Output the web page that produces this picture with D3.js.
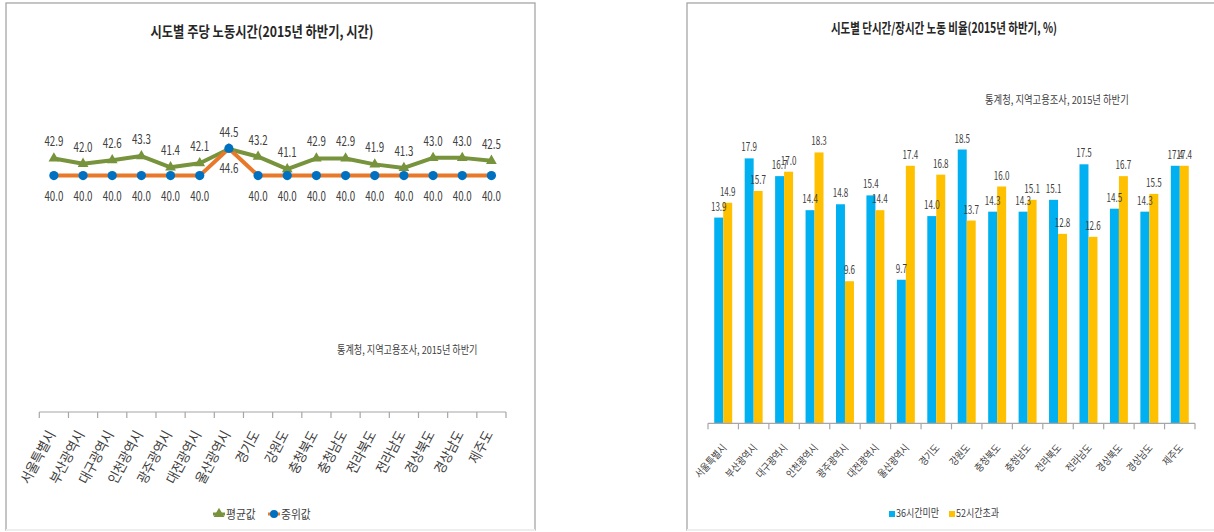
<!DOCTYPE html>
<html>
<head>
<meta charset="utf-8">
<script src="https://cdn.jsdelivr.net/npm/d3@7"></script>
<style>
  html, body { margin: 0; padding: 0; background: #fff; }
  svg { display: block; }
  text { font-family: "Noto Sans CJK KR", sans-serif; fill: #404040; }
  .title { font-weight: bold; fill: #262626; }
</style>
</head>
<body>
<svg id="chart" width="1214" height="532"></svg>
<script>
// 시도 목록
const regions = ['서울특별시', '부산광역시', '대구광역시', '인천광역시', '광주광역시', '대전광역시', '울산광역시',
  '경기도', '강원도', '충청북도', '충청남도', '전라북도', '전라남도', '경상북도', '경상남도', '제주도'];

// 주당 노동시간 (시간)
const meanHours = [42.9, 42.0, 42.6, 43.3, 41.4, 42.1, 44.5, 43.2, 41.1, 42.9, 42.9, 41.9, 41.3, 43.0, 43.0, 42.5];
const medianHours = [40.0, 40.0, 40.0, 40.0, 40.0, 40.0, 44.6, 40.0, 40.0, 40.0, 40.0, 40.0, 40.0, 40.0, 40.0, 40.0];

// 단시간/장시간 노동 비율 (%)
const shortWork = [13.9, 17.9, 16.7, 14.4, 14.8, 15.4, 9.7, 14.0, 18.5, 14.3, 14.3, 15.1, 17.5, 14.5, 14.3, 17.4];
const longWork = [14.9, 15.7, 17.0, 18.3, 9.6, 14.4, 17.4, 16.8, 13.7, 16.0, 15.1, 12.8, 12.6, 16.7, 15.5, 17.4];

const lineSeries = ['평균값', '중위값'];
const barSeries = ['36시간미만', '52시간초과'];
const sourceNote = '통계청, 지역고용조사, 2015년 하반기';

const svg = d3.select('#chart');

// 좁은 글꼴 흉내: 가로로 눌러서 그림
function squeeze(sel, sx) {
    sel.each(function () {
        const t = d3.select(this);
        const x = +t.attr('x') || 0, y = +t.attr('y') || 0;
        t.attr('x', 0).attr('y', 0).attr('transform', `translate(${x},${y}) scale(${sx},1)`);
    });
    return sel;
}

// 패널 테두리
function panel(x0, x1) {
    const g = svg.append('g');
    g.append('rect').attr('x', x0).attr('y', 3).attr('width', x1 - x0).attr('height', 527)
        .attr('fill', '#fff').attr('stroke', '#a6a6a6').attr('stroke-width', 1.3);
    g.append('line').attr('x1', x0).attr('x2', x1).attr('y1', 530).attr('y2', 530)
        .attr('stroke', '#eeeeee').attr('stroke-width', 2);
}
panel(6, 535);
panel(687, 1240);

// 카테고리 축 (눈금은 카테고리 경계)
function categoryAxis(x, y0, opt) {
    const g = svg.append('g').attr('transform', `translate(0,${y0})`);
    const [r0, r1] = x.range();
    g.append('line').attr('x1', r0).attr('x2', r1).attr('stroke', '#a6a6a6').attr('stroke-width', 1.2);
    const bounds = d3.range(regions.length + 1).map(i => r0 + i * x.step());
    g.selectAll('.tick-b').data(bounds).enter().append('line')
        .attr('x1', d => d).attr('x2', d => d).attr('y1', 0).attr('y2', 6)
        .attr('stroke', '#a6a6a6').attr('stroke-width', 1.2);
    g.selectAll('.lab').data(regions).enter().append('text')
        .attr('text-anchor', 'end')
        .style('font-size', opt.size + 'px')
        .attr('transform', d => `translate(${x(d) + x.bandwidth() / 2 + opt.dx},${opt.dy}) rotate(${opt.angle}) scale(${opt.sx},1)`)
        .text(d => d);
}

// ===== 왼쪽: 주당 노동시간 =====
{
    const x = d3.scaleBand().domain(regions).range([39.3, 506]).padding(0);
    const y = d3.scaleLinear().domain([0, 50]).range([412, 116.5]);
    const cx = d => x(d) + x.bandwidth() / 2;

    squeeze(svg.append('text').attr('class', 'title').attr('x', 262).attr('y', 37)
        .attr('text-anchor', 'middle').style('font-size', '15px')
        .text('시도별 주당 노동시간(2015년 하반기, 시간)'), 0.82);

    categoryAxis(x, 412, { size: 14, sx: 0.9, angle: -62, dx: 2, dy: 22 });

    const meanData = regions.map((r, i) => ({ r, v: meanHours[i] }));
    const medData = regions.map((r, i) => ({ r, v: medianHours[i] }));
    const line = d3.line().x(d => cx(d.r)).y(d => y(d.v));

    svg.append('path').datum(meanData).attr('d', line)
        .attr('fill', 'none').attr('stroke', '#77933c').attr('stroke-width', 4).attr('stroke-linejoin', 'round');
    svg.append('path').datum(medData).attr('d', line)
        .attr('fill', 'none').attr('stroke', '#e8792a').attr('stroke-width', 4).attr('stroke-linejoin', 'round');

    const tri = d3.symbol().type(d3.symbolTriangle).size(50);
    svg.selectAll('.tri').data(meanData).enter().append('path')
        .attr('d', tri).attr('fill', '#77933c')
        .attr('transform', d => `translate(${cx(d.r)},${y(d.v)})`);
    svg.selectAll('.dot').data(medData).enter().append('circle')
        .attr('cx', d => cx(d.r)).attr('cy', d => y(d.v)).attr('r', 4.6)
        .attr('fill', '#0070c0');

    squeeze(svg.selectAll('.mlab').data(meanData).enter().append('text')
        .attr('x', d => cx(d.r)).attr('y', d => y(d.v) - 12)
        .attr('text-anchor', 'middle').style('font-size', '13px')
        .text(d => d.v.toFixed(1)), 0.75);
    squeeze(svg.selectAll('.dlab').data(medData).enter().append('text')
        .attr('x', d => cx(d.r)).attr('y', d => y(d.v) + 25)
        .attr('text-anchor', 'middle').style('font-size', '13px')
        .text(d => d.v.toFixed(1)), 0.75);

    squeeze(svg.append('text').attr('x', 337).attr('y', 354)
        .style('font-size', '11px').text(sourceNote), 0.83);

    // 범례
    const lg = svg.append('g').attr('transform', 'translate(213,514)');
    lg.append('line').attr('x1', 0).attr('x2', 12).attr('stroke', '#77933c').attr('stroke-width', 3);
    lg.append('path').attr('d', tri).attr('fill', '#77933c').attr('transform', 'translate(6,0)');
    squeeze(lg.append('text').attr('x', 13).attr('y', 5).style('font-size', '12px').text(lineSeries[0]), 0.9);
    lg.append('line').attr('x1', 55).attr('x2', 67).attr('stroke', '#e8792a').attr('stroke-width', 3);
    lg.append('circle').attr('cx', 61).attr('cy', 0).attr('r', 4).attr('fill', '#0070c0');
    squeeze(lg.append('text').attr('x', 68).attr('y', 5).style('font-size', '12px').text(lineSeries[1]), 0.9);
}

// ===== 오른쪽: 단시간/장시간 노동 비율 =====
{
    const x0 = d3.scaleBand().domain(regions).range([708, 1195]).paddingInner(0.41).paddingOuter(0.205);
    const x1 = d3.scaleBand().domain(barSeries).range([0, x0.bandwidth()]);
    const y = d3.scaleLinear().domain([0, 20]).range([423.3, 127.3]);
    const color = d3.scaleOrdinal().domain(barSeries).range(['#00b0f0', '#ffc000']);

    squeeze(svg.append('text').attr('class', 'title').attr('x', 944).attr('y', 33)
        .attr('text-anchor', 'middle').style('font-size', '14px')
        .text('시도별 단시간/장시간 노동 비율(2015년 하반기, %)'), 0.75);

    squeeze(svg.append('text').attr('x', 985).attr('y', 104)
        .style('font-size', '11px').text(sourceNote), 0.85);

    const rows = regions.map((r, i) => ({ r, vals: [
        { s: barSeries[0], v: shortWork[i] },
        { s: barSeries[1], v: longWork[i] }] }));

    const grp = svg.selectAll('.grp').data(rows).enter().append('g')
        .attr('transform', d => `translate(${x0(d.r)},0)`);
    grp.selectAll('rect').data(d => d.vals).enter().append('rect')
        .attr('x', d => x1(d.s)).attr('width', x1.bandwidth())
        .attr('y', d => y(d.v)).attr('height', d => y(0) - y(d.v))
        .attr('fill', d => color(d.s));
    squeeze(grp.selectAll('text').data(d => d.vals).enter().append('text')
        .attr('x', d => x1(d.s) + x1.bandwidth() / 2).attr('y', d => y(d.v) - 7)
        .attr('text-anchor', 'middle').style('font-size', '11.5px')
        .text(d => d.v.toFixed(1)), 0.7);

    // 가로축: 밴드 경계 눈금
    const xb = d3.scaleBand().domain(regions).range([708, 1195]);
    categoryAxis(xb, 423.3, { size: 10.5, sx: 0.85, angle: -48, dx: 4, dy: 25 });

    // 범례
    const lg = svg.append('g').attr('transform', 'translate(889,517)');
    barSeries.forEach((s, i) => {
        const ox = i * 60;
        lg.append('rect').attr('x', ox).attr('y', -6).attr('width', 6).attr('height', 6).attr('fill', color(s));
        squeeze(lg.append('text').attr('x', ox + 7).attr('y', 0).style('font-size', '11px').text(s), 0.82);
    });
}
</script>
</body>
</html>
